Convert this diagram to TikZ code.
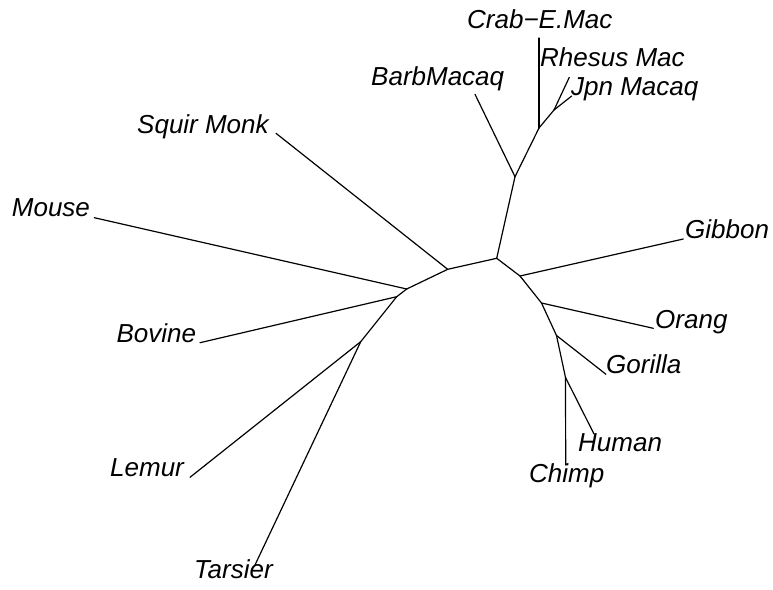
\documentclass[tikz,border=0pt]{standalone}
\usepackage{fontspec}
\setmainfont{Liberation Sans}
\begin{document}
\begin{tikzpicture}[x=1pt,y=-1pt,
  branch/.style={line width=1.2pt, line cap=round, line join=round},
  taxon/.style={font=\fontsize{26}{30}\selectfont\itshape, inner sep=0pt, anchor=base west}]
\useasboundingbox (0,0) rectangle (773,589);
% internal nodes
\coordinate (nA) at (515,176.7);
\coordinate (nB) at (496.7,258.3);
\coordinate (nC) at (447.7,269.3);
\coordinate (nD) at (520,276);
\coordinate (nE) at (541.5,303);
\coordinate (nF) at (406.7,289);
\coordinate (nG) at (396.7,296.7);
\coordinate (nH) at (360.7,341.7);
\coordinate (nI) at (539,128);
\coordinate (nJ) at (554,110);
\coordinate (nK) at (556.5,335.5);
\coordinate (nL) at (565.5,377.5);
% leaves
\coordinate (lCrab) at (539,38);
\coordinate (lRhesus) at (569.3,77.3);
\coordinate (lJpn) at (571.7,96);
\coordinate (lBarb) at (475,94.3);
\coordinate (lSquir) at (276,133.3);
\coordinate (lMouse) at (94.3,217.7);
\coordinate (lBovine) at (200,342.7);
\coordinate (lLemur) at (190,477.3);
\coordinate (lTarsier) at (254.5,566);
\coordinate (lGibbon) at (683.3,239);
\coordinate (lOrang) at (653.3,328.3);
\coordinate (lGorilla) at (606,374.3);
\coordinate (lHuman) at (594,434);
\coordinate (lChimp) at (565.7,465);
% labels
\node[taxon] (tCrab) at (467,28.3) {Crab−E.Mac};
\node[taxon] (tRhesus) at (540,66.7) {Rhesus Mac};
\node[taxon] (tJpn) at (571,95.7) {Jpn Macaq};
\node[taxon] (tBarb) at (371,85) {BarbMacaq};
\node[taxon] (tSquir) at (137,133.3) {Squir Monk};
\node[taxon] (tMouse) at (11.7,216.7) {Mouse};
\node[taxon] (tBovine) at (116.3,342.3) {Bovine};
\node[taxon] (tLemur) at (110,476.7) {Lemur};
\node[taxon] (tTarsier) at (194,578.5) {Tarsier};
\node[taxon] (tGibbon) at (685,238.3) {Gibbon};
\node[taxon] (tOrang) at (655,328.3) {Orang};
\node[taxon] (tGorilla) at (606,373.3) {Gorilla};
\node[taxon] (tHuman) at (578,451.7) {Human};
\node[taxon] (tChimp) at (529,482.7) {Chimp};
% branches
\draw[branch] (nB) -- (nA);
\draw[branch] (nB) -- (nC);
\draw[branch] (nB) -- (nD);
\draw[branch] (nA) -- (lBarb);
\draw[branch] (nA) -- (nI);
\draw[branch] (nI) -- (lCrab);
\draw[branch] (nI) -- (nJ);
\draw[branch] (nJ) -- (lRhesus);
\draw[branch] (nJ) -- (lJpn);
\draw[branch] (nC) -- (lSquir);
\draw[branch] (nC) -- (nF);
\draw[branch] (nF) -- (lMouse);
\draw[branch] (nF) -- (nG);
\draw[branch] (nG) -- (lBovine);
\draw[branch] (nG) -- (nH);
\draw[branch] (nH) -- (lLemur);
\draw[branch] (nH) -- (lTarsier);
\draw[branch] (nD) -- (lGibbon);
\draw[branch] (nD) -- (nE);
\draw[branch] (nE) -- (lOrang);
\draw[branch] (nE) -- (nK);
\draw[branch] (nK) -- (lGorilla);
\draw[branch] (nK) -- (nL);
\draw[branch] (nL) -- (lHuman);
\draw[branch] (nL) -- (lChimp);
\end{tikzpicture}
\end{document}
